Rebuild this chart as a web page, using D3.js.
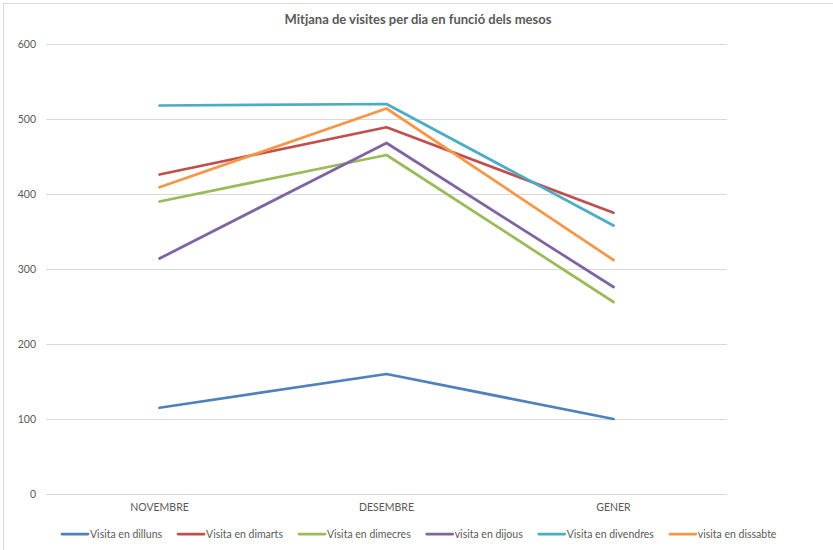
<!DOCTYPE html>
<html>
<head>
<meta charset="utf-8">
<script src="https://cdn.jsdelivr.net/npm/d3@7"></script>
<style>
  html, body { margin: 0; padding: 0; background: #fff; }
  svg { display: block; font-family: Lato, "Open Sans", sans-serif; }
</style>
</head>
<body>
<svg id="chart" width="833" height="550"></svg>
<script>
const categories = ["NOVEMBRE", "DESEMBRE", "GENER"];
const seriesNames = ["Visita en dilluns", "Visita en dimarts", "Visita en dimecres", "visita en dijous", "Visita en divendres", "visita en dissabte"];
const dilluns   = [115, 160, 100];
const dimarts   = [426, 489, 375];
const dimecres  = [390, 452, 256];
const dijous    = [314, 468, 276];
const divendres = [518, 520, 358];
const dissabte  = [409, 514, 312];
const yTicks = [0, 100, 200, 300, 400, 500, 600];
const colors = ["#4F81BD", "#C0504D", "#9BBB59", "#8064A2", "#4BACC6", "#F79646"];
const title = "Mitjana de visites per dia en funció dels mesos";

const seriesValues = [dilluns, dimarts, dimecres, dijous, divendres, dissabte];
const series = seriesNames.map((name, i) => ({ name, values: seriesValues[i], color: colors[i] }));

const svg = d3.select("#chart");
const W = 833, H = 550;

svg.append("rect").attr("x", 3.5).attr("y", 3.5).attr("width", W + 10).attr("height", H + 10)
  .attr("fill", "#fff").attr("stroke", "#d9d9d9").attr("stroke-width", 1);

const plot = { left: 46, right: 727, top: 44, bottom: 494 };

const x = d3.scaleBand().domain(categories).range([plot.left, plot.right]);
const y = d3.scaleLinear().domain([0, 600]).range([plot.bottom, plot.top]);

svg.append("text").attr("x", 418).attr("y", 24).attr("text-anchor", "middle")
  .attr("font-size", 13).attr("font-weight", "bold").attr("fill", "#595959").text(title);

const yAxis = d3.axisLeft(y).tickValues(yTicks).tickSize(-(plot.right - plot.left)).tickPadding(10);
const gy = svg.append("g").attr("transform", `translate(${plot.left},0)`).call(yAxis);
gy.select(".domain").remove();
gy.selectAll(".tick line").attr("stroke", "#d9d9d9").attr("stroke-width", 1);
gy.selectAll(".tick text").attr("fill", "#595959").attr("font-size", 10.5).attr("font-family", "Lato, sans-serif");

const xAxis = d3.axisBottom(x).tickSize(0).tickPadding(10);
const gx = svg.append("g").attr("transform", `translate(0,${plot.bottom})`).call(xAxis);
gx.select(".domain").remove();
gx.selectAll(".tick text").attr("fill", "#595959").attr("font-size", 10.5).attr("font-family", "Lato, sans-serif");

const line = d3.line()
  .x((d, i) => x(categories[i]) + x.bandwidth() / 2)
  .y(d => y(d));

svg.append("g").selectAll("path").data(series).join("path")
  .attr("d", d => line(d.values))
  .attr("fill", "none")
  .attr("stroke", d => d.color)
  .attr("stroke-width", 2.75)
  .attr("stroke-linejoin", "round")
  .attr("stroke-linecap", "round");

const legend = svg.append("g").attr("transform", "translate(0,534)");
let lx = 62;
series.forEach(s => {
  const g = legend.append("g").attr("transform", `translate(${lx},0)`);
  g.append("line").attr("x1", 0).attr("x2", 26).attr("y1", 0).attr("y2", 0)
    .attr("stroke", s.color).attr("stroke-width", 2.75).attr("stroke-linecap", "round");
  const t = g.append("text").attr("x", 28).attr("y", 4).attr("font-size", 10.5)
    .attr("fill", "#595959").text(s.name);
  const w = t.node().getComputedTextLength();
  lx += 28 + w + 16;
});
</script>
</body>
</html>
